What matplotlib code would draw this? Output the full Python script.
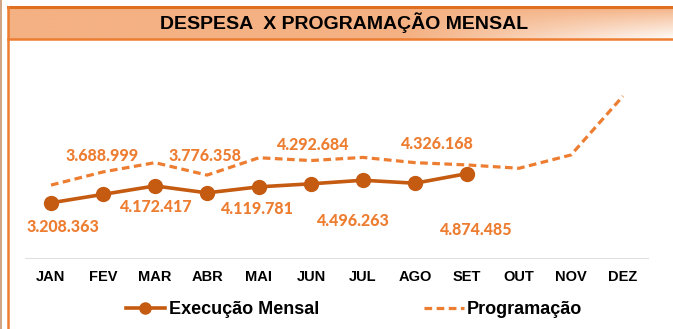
import matplotlib
matplotlib.use("Agg")
import matplotlib.pyplot as plt
import numpy as np
from matplotlib.lines import Line2D

# dados (milhoes de R$)
meses = ["JAN", "FEV", "MAR", "ABR", "MAI", "JUN", "JUL", "AGO", "SET", "OUT", "NOV", "DEZ"]
execucao = [3.208363, 3.688999, 4.172417, 3.776358, 4.119781, 4.292684, 4.496263, 4.326168, 4.874485]
programacao = [4.22, 4.97, 5.50, 4.79, 5.78, 5.62, 5.80, 5.50, 5.37, 5.18, 5.94, 9.30]
rotulos = ["3.208.363", "3.688.999", "4.172.417", "3.776.358", "4.119.781",
           "4.292.684", "4.496.263", "4.326.168", "4.874.485"]

# deslocamento dos rotulos (pixels)
desloc = [(12, -24), (-1, 38), (0, -21), (-2, 37), (-2, -22),
          (1, 39), (-11, -41), (21, 39), (8, -56)]

laranja_esc = "#C55A11"
laranja = "#ED7D31"

W, H = 673, 329
fig = plt.figure(figsize=(W / 100, H / 100), dpi=100)

# faixa do titulo com degrade
band = fig.add_axes([8 / W, (H - 39) / H, (W - 8) / W, 32 / H])
gx = np.linspace(0, 1, 300)
gy = np.linspace(0, 1, 40)
X, Y = np.meshgrid(gx, gy)
t = np.clip((X - 0.6) / 0.4, 0, 1)
wgt = (t * Y ** 0.9 * 0.95)[..., None]
base = np.array([0xF4, 0xB1, 0x83]) / 255
img = base * (1 - wgt) + np.ones(3) * wgt
band.imshow(img, aspect="auto", extent=[0, 1, 0, 1], origin="upper")
band.set_xlim(0, 1)
band.set_ylim(0, 1)
band.set_xticks([])
band.set_yticks([])
for s in band.spines.values():
    s.set_visible(False)
band.axhline(1, color="#E07020", lw=2.2, clip_on=False)
band.axhline(0, color=laranja, lw=1.8, clip_on=False)
band.text(0.505, 0.5, "DESPESA  X PROGRAMAÇÃO MENSAL", ha="center", va="center",
          fontsize=14, fontweight="bold", family="Liberation Sans", color="black")

# bordas laterais
fig.add_artist(Line2D([0.7 / W, 0.7 / W], [0, 1], color="#C8956E", lw=1.2))
fig.add_artist(Line2D([8 / W, 8 / W], [0, (H - 7) / H], color=laranja, lw=1.8))

# area do grafico
ax = fig.add_axes([25 / W, (H - 259) / H, 624 / W, (259 - 48.8) / H])
x = np.arange(len(meses))
ax.plot(x, programacao, color=laranja, lw=2.3, dashes=(2.4, 1.4), zorder=2)
ax.plot(x[:len(execucao)], execucao, color=laranja_esc, lw=2.6, marker="o",
        markersize=10, zorder=3)
for i, (v, r) in enumerate(zip(execucao, rotulos)):
    ax.annotate(r, (i, v), xytext=desloc[i], textcoords="offset pixels",
                ha="center", va="center", color=laranja, fontsize=11.5,
                fontweight="black", family="Lato")

ax.set_xlim(-0.5, 11.5)
ax.set_ylim(0, 12)
ax.axhline(0, color="#D9D9D9", lw=1.2)
for s in ax.spines.values():
    s.set_visible(False)
ax.set_yticks([])
ax.set_xticks(x)
ax.set_xticklabels(meses, fontsize=10.5, fontweight="bold", family="Liberation Sans")
ax.tick_params(axis="x", length=0, pad=8)

h1 = Line2D([], [], color=laranja_esc, lw=2.6, marker="o", markersize=8)
h2 = Line2D([], [], color=laranja, lw=2.3, dashes=(2.4, 1.4))
fig.legend([h1, h2], ["Execução Mensal", "Programação"], ncol=2, frameon=False,
           loc="center", bbox_to_anchor=(354 / W, (H - 310) / H),
           prop={"family": "Liberation Sans", "weight": "bold", "size": 13},
           handlelength=2.2, handletextpad=0.2, columnspacing=5.8)

fig.savefig("out.png", dpi=100)
